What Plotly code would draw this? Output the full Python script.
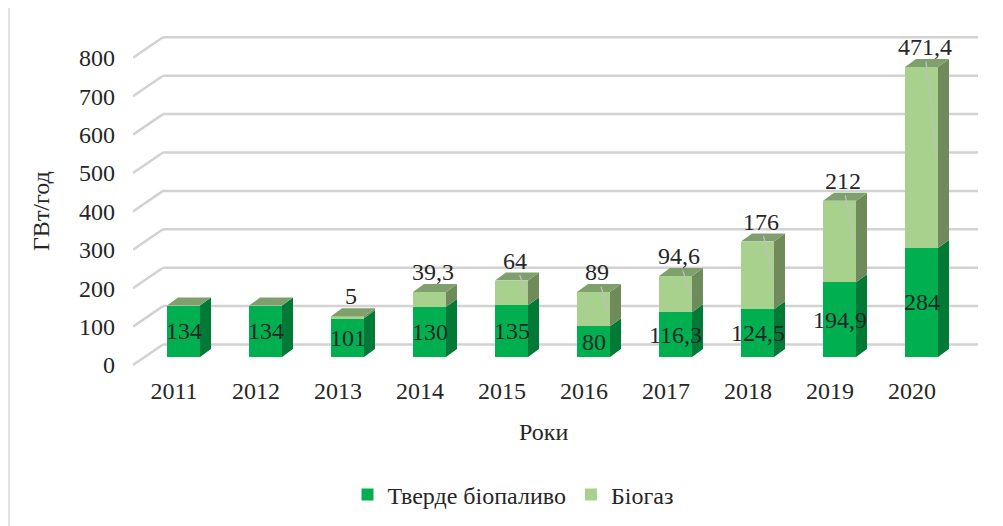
import plotly.graph_objects as go

# ---------------- data ----------------
years = ["2011", "2012", "2013", "2014", "2015", "2016", "2017", "2018", "2019", "2020"]
solid_biofuel = [134, 134, 101, 130, 135, 80, 116.3, 124.5, 194.9, 284]
biogas = [0, 0, 5, 39.3, 64, 89, 94.6, 176, 212, 471.4]
y_ticks = [0, 100, 200, 300, 400, 500, 600, 700, 800]

series_names = ["Тверде біопаливо", "Біогаз"]
y_title = "ГВт/год"
x_title = "Роки"

# ---------------- style / geometry (screen pixels) ----------------
PAGE_OFF = 8                      # default body margin of the html page
W, H = 1003 - PAGE_OFF, 526 - PAGE_OFF
SX_L, SX_R, SY_T, SY_B = 133, 980, 20, 367   # plot area in screen pixels
L, R = SX_L - PAGE_OFF, W - (SX_R - PAGE_OFF)
T, B = SY_T - PAGE_OFF, H - (SY_B - PAGE_OFF)
PW, PH = SX_R - SX_L, SY_B - SY_T
PX_CAT = 82.0          # pixels per category
PX_UNIT = 0.384        # pixels per value unit
BASE_PX = 357          # screen row of value 0 in the bar plane
X0 = -0.5
X1 = X0 + PW / PX_CAT
Y0 = -(SY_B - BASE_PX) / PX_UNIT
Y1 = Y0 + PH / PX_UNIT

BW = 33 / PX_CAT       # bar front width (x units)
BOFF = -7 / PX_CAT     # bar offset from category centre
DX = 11 / PX_CAT       # 3d depth in x
DY = 8 / PX_UNIT       # 3d depth in y
FRONT_PX = -8          # front (floor edge) plane shift in px
FRONT = FRONT_PX / PX_UNIT
BACK = 12.5 / PX_UNIT  # back wall plane shift
GRID_L = X0 + 30 / PX_CAT
GRID_R = X0 + (978 - SX_L) / PX_CAT

FONT = "Liberation Serif"
FS = 24
TXT = "#262626"
C_SOLID, C_SOLID_SIDE = "#00b050", "#007a36"
C_BIO, C_BIO_SIDE, C_TOP = "#a9d18e", "#6f8b5c", "#7fa06c"
GRID_C = "#d2d2d2"


def paper_x(sx):
    return (sx - SX_L) / PW


def paper_y(sy):
    return (SY_B - sy) / PH


def fmt(v):
    return f"{v:g}".replace(".", ",")


idx = list(range(len(years)))

fig = go.Figure()
fig.add_trace(go.Bar(x=idx, y=solid_biofuel, name=series_names[0], width=BW, offset=BOFF,
                     marker=dict(color=C_SOLID, line=dict(width=0))))
fig.add_trace(go.Bar(x=idx, y=biogas, name=series_names[1], width=BW, offset=BOFF,
                     marker=dict(color=C_BIO, line=dict(width=0))))

shapes = []
# back-wall gridlines with floor diagonals
for v in y_ticks:
    shapes.append(dict(type="line", xref="x", yref="y", x0=GRID_L, x1=GRID_R,
                       y0=v + BACK, y1=v + BACK, line=dict(color=GRID_C, width=2.5), layer="below"))
    shapes.append(dict(type="line", xref="x", yref="y", x0=X0, x1=GRID_L,
                       y0=v + FRONT, y1=v + BACK, line=dict(color=GRID_C, width=2.5), layer="below"))

# 3d side and top faces computed from the data
for i, (s, b) in enumerate(zip(solid_biofuel, biogas)):
    xl = i + BOFF
    xr = xl + BW
    tot = s + b
    for y_lo, y_hi, col in ((0, s, C_SOLID_SIDE), (s, tot, C_BIO_SIDE)):
        if y_hi > y_lo:
            shapes.append(dict(type="path", xref="x", yref="y", layer="above",
                               path=f"M {xr},{y_lo} L {xr + DX},{y_lo + DY} L {xr + DX},{y_hi + DY} L {xr},{y_hi} Z",
                               fillcolor=col, line=dict(width=0)))
    shapes.append(dict(type="path", xref="x", yref="y", layer="above",
                       path=f"M {xl},{tot} L {xl + DX},{tot + DY} L {xr + DX},{tot + DY} L {xr},{tot} Z",
                       fillcolor=C_TOP, line=dict(width=0)))

# outer border
shapes.append(dict(type="rect", xref="paper", yref="paper", x0=paper_x(9), x1=paper_x(999),
                   y0=paper_y(560), y1=paper_y(5), line=dict(color="#d9d9d9", width=1.5),
                   fillcolor="rgba(0,0,0,0)", layer="below"))

annotations = []
for i, (s, b) in enumerate(zip(solid_biofuel, biogas)):
    xc = i + BOFF + BW / 2
    annotations.append(dict(x=xc, y=s / 2, xref="x", yref="y", text=fmt(s), showarrow=False,
                            xanchor="center", yanchor="middle",
                            font=dict(family=FONT, size=FS, color=TXT)))
    if b > 0:
        tx = xc + 3 / PX_CAT
        ty = s + b + 20 / PX_UNIT
        if b >= 50:
            annotations.append(dict(x=i + BOFF + BW - 2 / PX_CAT, y=s + b / 2, xref="x", yref="y",
                                    ax=tx, ay=ty, axref="x", ayref="y", text=fmt(b),
                                    showarrow=True, arrowhead=0, arrowwidth=1.3, arrowcolor="#bfbfbf",
                                    standoff=0, font=dict(family=FONT, size=FS, color=TXT)))
        else:
            annotations.append(dict(x=tx, y=ty, xref="x", yref="y", text=fmt(b), showarrow=False,
                                    xanchor="center", yanchor="middle",
                                    font=dict(family=FONT, size=FS, color=TXT)))

# axis titles
annotations.append(dict(x=(len(years) - 1) / 2, y=paper_y(432), xref="x", yref="paper",
                        xanchor="center", yanchor="middle",
                        text=x_title, showarrow=False, font=dict(family=FONT, size=FS, color=TXT)))
annotations.append(dict(x=paper_x(41), y=paper_y(211), xref="paper", yref="paper",
                        xanchor="center", yanchor="middle", textangle=-90,
                        text=y_title, showarrow=False, font=dict(family=FONT, size=FS, color=TXT)))

fig.update_layout(
    width=W, height=H,
    margin=dict(l=L, r=R, t=T, b=B, autoexpand=False),
    paper_bgcolor="white", plot_bgcolor="white",
    barmode="stack", bargap=0,
    font=dict(family=FONT, size=FS, color=TXT),
    showlegend=True,
    legend=dict(orientation="h", x=paper_x(513), y=paper_y(495), xanchor="center", yanchor="middle",
                font=dict(family=FONT, size=FS, color=TXT), itemwidth=30, traceorder="normal"),
    xaxis=dict(range=[X0, X1], tickmode="array", tickvals=idx, ticktext=years, showgrid=False,
               zeroline=False, showline=False, ticks="", ticklabelstandoff=7,
               tickfont=dict(family=FONT, size=FS, color=TXT), fixedrange=True),
    yaxis=dict(range=[Y0, Y1], tickmode="array", tickvals=y_ticks, showgrid=False, zeroline=False,
               showline=False, ticks="", ticklabelshift=-FRONT_PX, ticklabelstandoff=17,
               tickfont=dict(family=FONT, size=FS, color=TXT), fixedrange=True),
    shapes=shapes,
    annotations=annotations,
)

fig.write_html("out.html")
